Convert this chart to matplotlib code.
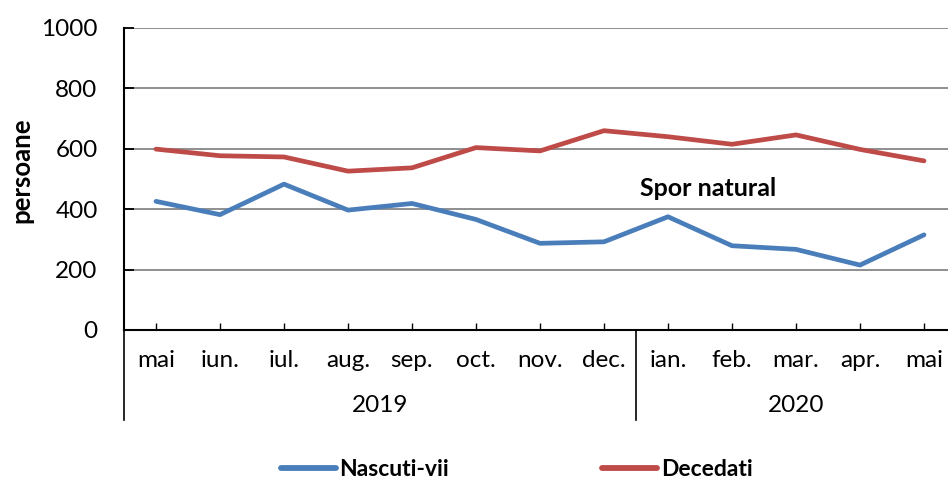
import matplotlib.pyplot as plt
import matplotlib.transforms as mtransforms

plt.rcParams['font.family'] = ['Lato', 'DejaVu Sans']

# data
months = ['mai', 'iun.', 'iul.', 'aug.', 'sep.', 'oct.', 'nov.', 'dec.',
          'ian.', 'feb.', 'mar.', 'apr.', 'mai']
years = ['2019', '2020']
year_sizes = [8, 5]
nascuti_vii = [426, 382, 483, 397, 419, 366, 287, 292, 375, 279, 267, 215, 315]
decedati = [599, 577, 573, 526, 537, 604, 593, 660, 640, 615, 646, 598, 560]
yticks = [0, 200, 400, 600, 800, 1000]

W, H = 948, 487
fig = plt.figure(figsize=(W / 100, H / 100), dpi=100)
# axis goes a bit past the right border, like the cropped original
ax = fig.add_axes([124 / W, (H - 330) / H, 832 / W, 302 / H])

x = list(range(len(months)))
ax.plot(x, nascuti_vii, color='#4A7EBB', lw=3.4, label='Nascuti-vii', solid_capstyle='round')
ax.plot(x, decedati, color='#BE4B48', lw=3.4, label='Decedati', solid_capstyle='round')

ax.set_xlim(-0.5, len(months) - 0.5)
ax.set_ylim(0, 1000)
ax.set_yticks(yticks)
ax.set_yticklabels([str(v) for v in yticks], fontsize=17.5)
ax.yaxis.grid(True, color='#868686', lw=1.3)
ax.set_axisbelow(True)
ax.tick_params(axis='y', direction='in', length=7, width=1.3, pad=19, color='black')
ax.set_xticks(x)
ax.set_xticklabels([])
ax.tick_params(axis='x', direction='in', length=5, width=1, color='black')

for s in ['top', 'right']:
    ax.spines[s].set_visible(False)
ax.spines['left'].set_linewidth(1.5)
ax.spines['bottom'].set_linewidth(1.5)

# two level category axis
trans = mtransforms.blended_transform_factory(ax.transData, ax.transAxes)
for i, m in enumerate(months):
    ax.text(i, (330 - 367) / 302, m, transform=trans, ha='center', va='baseline',
            fontsize=17.5, clip_on=False)
start = 0
bounds = [-0.5]
for yr, n in zip(years, year_sizes):
    ax.text(start + (n - 1) / 2, (330 - 411.5) / 302, yr, transform=trans,
            ha='center', va='baseline', fontsize=17.5, clip_on=False)
    start += n
    bounds.append(start - 0.5)
for b in bounds:
    ax.plot([b, b], [0, (330 - 420) / 302], transform=trans, color='black',
            lw=1.2, clip_on=False)

ax.text(8.62, 467, 'Spor natural', ha='center', va='center', fontsize=18,
        fontweight='bold')

fig.text(21 / W, (H - 170) / H, 'persoane', rotation=90, ha='center', va='center',
         fontsize=18.5, fontweight='bold')

leg = fig.legend(loc='center', bbox_to_anchor=(0.545, (H - 470) / H), ncol=2, frameon=False,
                 prop={'size': 16.5, 'weight': 'bold'}, handlelength=2.4, handletextpad=0.15,
                 columnspacing=6.7)
for h in leg.legend_handles:
    h.set_linewidth(4.2)

fig.savefig('out.png', dpi=100)
